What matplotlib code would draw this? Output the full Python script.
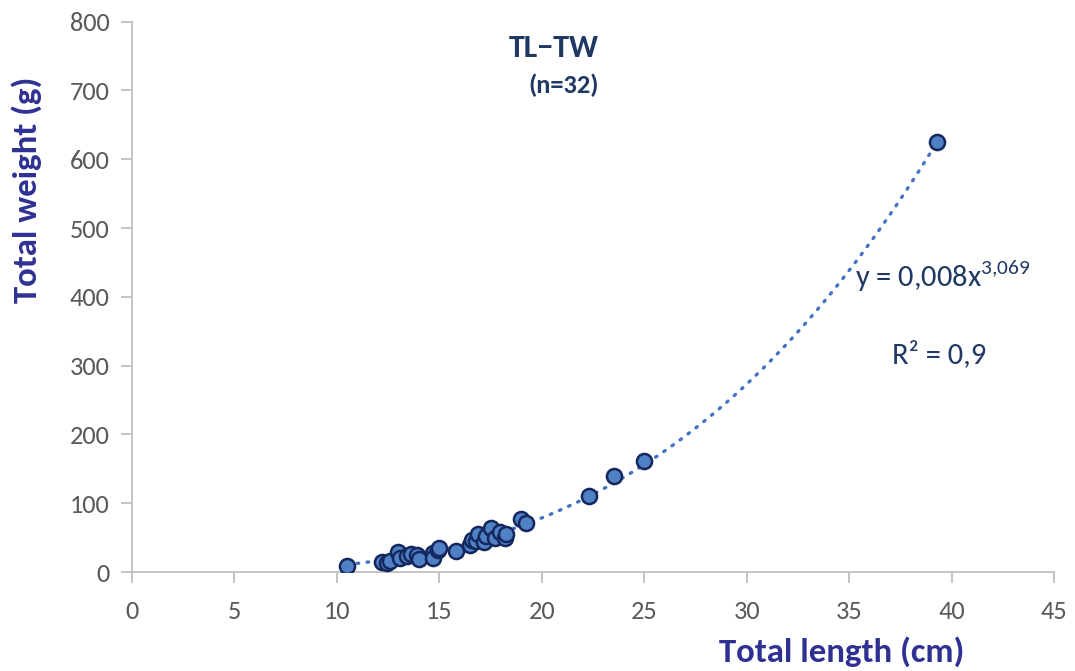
import numpy as np
import matplotlib
matplotlib.use("Agg")
import matplotlib.pyplot as plt
from matplotlib import font_manager

# Total length (cm) and total weight (g) of the 32 measured fish
length_cm = [10.5, 12.2, 12.45, 12.6, 13.0, 13.1, 13.4, 13.6, 13.9, 14.0,
             14.7, 14.7, 14.95, 15.0, 15.8, 16.5, 16.6, 16.8, 16.9, 17.2,
             17.3, 17.5, 17.7, 17.95, 18.2, 18.25, 19.0, 19.25, 22.3, 23.5,
             25.0, 39.3]
weight_g = [9, 14, 13.5, 16, 28.5, 21, 24, 26, 25, 19,
            28, 21, 32, 35, 30.5, 40, 46, 45.5, 56, 44,
            52, 63.5, 49, 58.5, 49, 55, 77, 71, 110, 139,
            161, 625]

# Power regression W = a * L^b
coef_a = 0.008
coef_b = 3.069

x_ticks = [0, 5, 10, 15, 20, 25, 30, 35, 40, 45]
y_ticks = [0, 100, 200, 300, 400, 500, 600, 700, 800]

installed = {f.name for f in font_manager.fontManager.ttflist}
family = [f for f in ["Carlito", "Lato", "DejaVu Sans"] if f in installed]
plt.rcParams["font.family"] = family
plt.rcParams["mathtext.fontset"] = "custom"
plt.rcParams["mathtext.rm"] = family[0]

fig = plt.figure(figsize=(10.75, 6.71), dpi=100)
ax = fig.add_axes([0.1228, 0.1475, 0.8577, 0.8202])

# fitted curve
xf = np.linspace(10.5, 39.5, 300)
yf = coef_a * xf ** coef_b
ax.plot(xf, yf, color="#4472C4", lw=2.4, linestyle=(0, (0.5, 2.5)),
        dash_capstyle="round", zorder=2)

ax.scatter(length_cm, weight_g, s=118, facecolor="#4F81C4",
           edgecolor="#14275E", linewidth=1.8, zorder=3)

ax.set_xlim(0, 45)
ax.set_ylim(0, 800)
ax.set_xticks(x_ticks)
ax.set_yticks(y_ticks)

for side in ["top", "right"]:
    ax.spines[side].set_visible(False)
for side in ["left", "bottom"]:
    ax.spines[side].set_color("#BFBFBF")
    ax.spines[side].set_linewidth(1.3)
ax.tick_params(axis="both", colors="#BFBFBF", length=8, width=1.3,
               labelcolor="#595959", labelsize=19, direction="out")
ax.tick_params(axis="x", pad=12)
ax.tick_params(axis="y", pad=8)

ax.set_xlabel("Total length (cm)", fontsize=25, fontweight="bold",
              color="#2E3192", ha="right", va="center")
ax.xaxis.set_label_coords(0.903, -0.145)
ax.set_ylabel("Total weight (g)", fontsize=25, fontweight="bold",
              color="#2E3192")
ax.yaxis.set_label_coords(-0.098, 0.695)

ax.text(0.457, 0.952, "TL\u2212TW", transform=ax.transAxes, ha="center",
        va="center", fontsize=23, fontweight="bold", color="#1F3864")
ax.text(0.468, 0.885, "(n=32)", transform=ax.transAxes, ha="center",
        va="center", fontsize=19, fontweight="bold", color="#1F3864")

ax.text(35.3, 430, "y = 0,008x$^{\\mathregular{3{,}069}}$", fontsize=22,
        color="#1F3864", va="center", ha="left")
ax.text(37.1, 317, "R\u00b2 = 0,9", fontsize=22, color="#1F3864",
        va="center", ha="left")

fig.savefig("out.png", dpi=100)
